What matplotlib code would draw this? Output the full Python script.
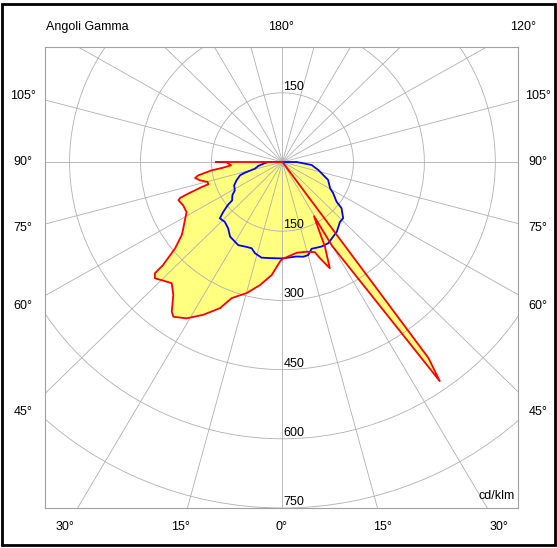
import numpy as np
import matplotlib.pyplot as plt
from matplotlib.patches import Circle, Rectangle

plt.rcParams['font.family'] = ['Liberation Sans', 'DejaVu Sans']

# C0-C180 plane (red), gamma in degrees, intensity in cd/klm
red_gamma_left = [0, 1.4, 5.3, 10.1, 14.9, 20.0, 22.6, 26.8, 30.9, 34.5, 35.8, 38.7,
                  41.7, 44.4, 46.9, 48.2, 48.5, 50.5, 53.4, 55.6, 58.5, 61.8, 65.9,
                  69.4, 70.2, 71.0, 72.4, 72.9, 74.7, 77.2, 79.4, 80.8, 83.1, 84.2,
                  86.2, 89.7, 90.0, 92.5, 180]
red_int_left = [210, 216, 246, 271, 294, 314, 343, 371, 395, 407, 400, 369,
                352, 360, 369, 362, 337, 294, 265, 254, 242, 230, 230,
                235, 230, 211, 179, 164, 164, 179, 188, 180, 151, 129,
                109, 118, 141, 0, 0]
red_gamma_right = [0, 1.4, 8.7, 14.7, 19.3, 20.8, 22.7, 23.5, 26.1, 27.8, 29.6,
                   30.0, 35.0, 36.0, 37.5, 180]
red_int_right = [210, 208, 199, 201, 207, 223, 242, 251, 204, 162, 135,
                 210, 580, 525, 0, 0]

# C90-C270 plane (blue)
blue_gamma_left = [0, 7.2, 12.0, 16.4, 19.2, 22.4, 27.4, 34.4, 38.6, 43.2, 47.3, 49.1,
                   51.0, 52.0, 55.8, 58.6, 63.6, 67.7, 72.2, 73.7, 76.0, 80.4, 85, 90,
                   95, 180]
blue_int_left = [209, 210, 212, 206, 198, 199, 203, 196, 184, 178, 180, 166,
                 149, 135, 128, 118, 114, 105, 94, 83, 60, 52, 40, 30,
                 0, 0]
blue_gamma_right = [0, 8.3, 12.1, 15.1, 18.1, 24.3, 28.8, 33.6, 37.2, 43.1, 46.5,
                    51.3, 53.1, 57.7, 60.4, 68.1, 70.5, 77.1, 84.0, 86.4, 90, 95, 180]
blue_int_right = [209, 207, 210, 209, 198, 201, 201, 194, 190, 178, 177,
                  160, 143, 127, 116, 104, 95, 78, 62, 44, 30, 0, 0]

rings = [150, 300, 450, 600, 750]
spokes = np.arange(0, 360, 15)

left_labels = ['105°', '90°', '75°', '60°', '45°']
side_label_y = [96, 162, 228, 306, 412]
bottom_labels = ['30°', '15°', '0°', '15°', '30°']
bottom_label_x = [65, 181, 282, 383, 499]


def to_xy(gl, il, gr, ir):
    gl = np.radians(np.array(gl[::-1], float))
    il = np.array(il[::-1], float)
    gr = np.radians(np.array(gr, float))
    ir = np.array(ir, float)
    x = np.concatenate([-il * np.sin(gl), ir * np.sin(gr)])
    y = np.concatenate([-il * np.cos(gl), -ir * np.cos(gr)])
    return x, y


W, H = 557, 548
fig = plt.figure(figsize=(W / 100, H / 100), dpi=100)
ax = fig.add_axes([45 / W, 1 - 508 / H, 473 / W, 461 / H])
ax.set_xlim(-502, 498)
ax.set_ylim(-750, 249.3)
for s in ax.spines.values():
    s.set_color('#a0a0a0')
    s.set_linewidth(0.8)
ax.set_xticks([])
ax.set_yticks([])

rx, ry = to_xy(red_gamma_left, red_int_left, red_gamma_right, red_int_right)
bx, by = to_xy(blue_gamma_left, blue_int_left, blue_gamma_right, blue_int_right)
ax.fill(rx, ry, color='#ffff80', lw=0, zorder=1)
ax.fill(bx, by, color='#ffff80', lw=0, zorder=1)

gc = '#b0b0b0'
for r in rings:
    ax.add_patch(Circle((0, 0), r, fill=False, ec=gc, lw=0.6, zorder=2))
for a in spokes:
    t = np.radians(a)
    ax.plot([0, 2000 * np.sin(t)], [0, -2000 * np.cos(t)], color=gc, lw=0.6, zorder=2)

ax.plot(rx, ry, color='#ff0000', lw=1.3, solid_joinstyle='round', zorder=4)
ax.plot(bx, by, color='#0000ff', lw=1.3, solid_joinstyle='round', zorder=3)

ax.text(2, 150, '150', fontsize=9, ha='left', va='bottom', zorder=5)
for r in rings:
    ax.text(2, -r, str(r), fontsize=9, ha='left', va='bottom', zorder=5)


def ftext(px, py, s, ha='center'):
    fig.text(px / W, 1 - py / H, s, fontsize=9, ha=ha, va='center')


ftext(46, 27, 'Angoli Gamma', ha='left')
ftext(281, 27, '180°')
ftext(523, 27, '120°')
for lab, y in zip(left_labels, side_label_y):
    ftext(23, y, lab)
    ftext(538, y, lab)
for lab, x in zip(bottom_labels, bottom_label_x):
    ftext(x, 527, lab)
ftext(515, 496, 'cd/klm', ha='right')

fig.patches.append(Rectangle((2 / W, 1 - 545 / H), 553 / W, 541 / H, fill=False,
                             ec='black', lw=2, transform=fig.transFigure, figure=fig))

fig.savefig('out.png', dpi=100)
